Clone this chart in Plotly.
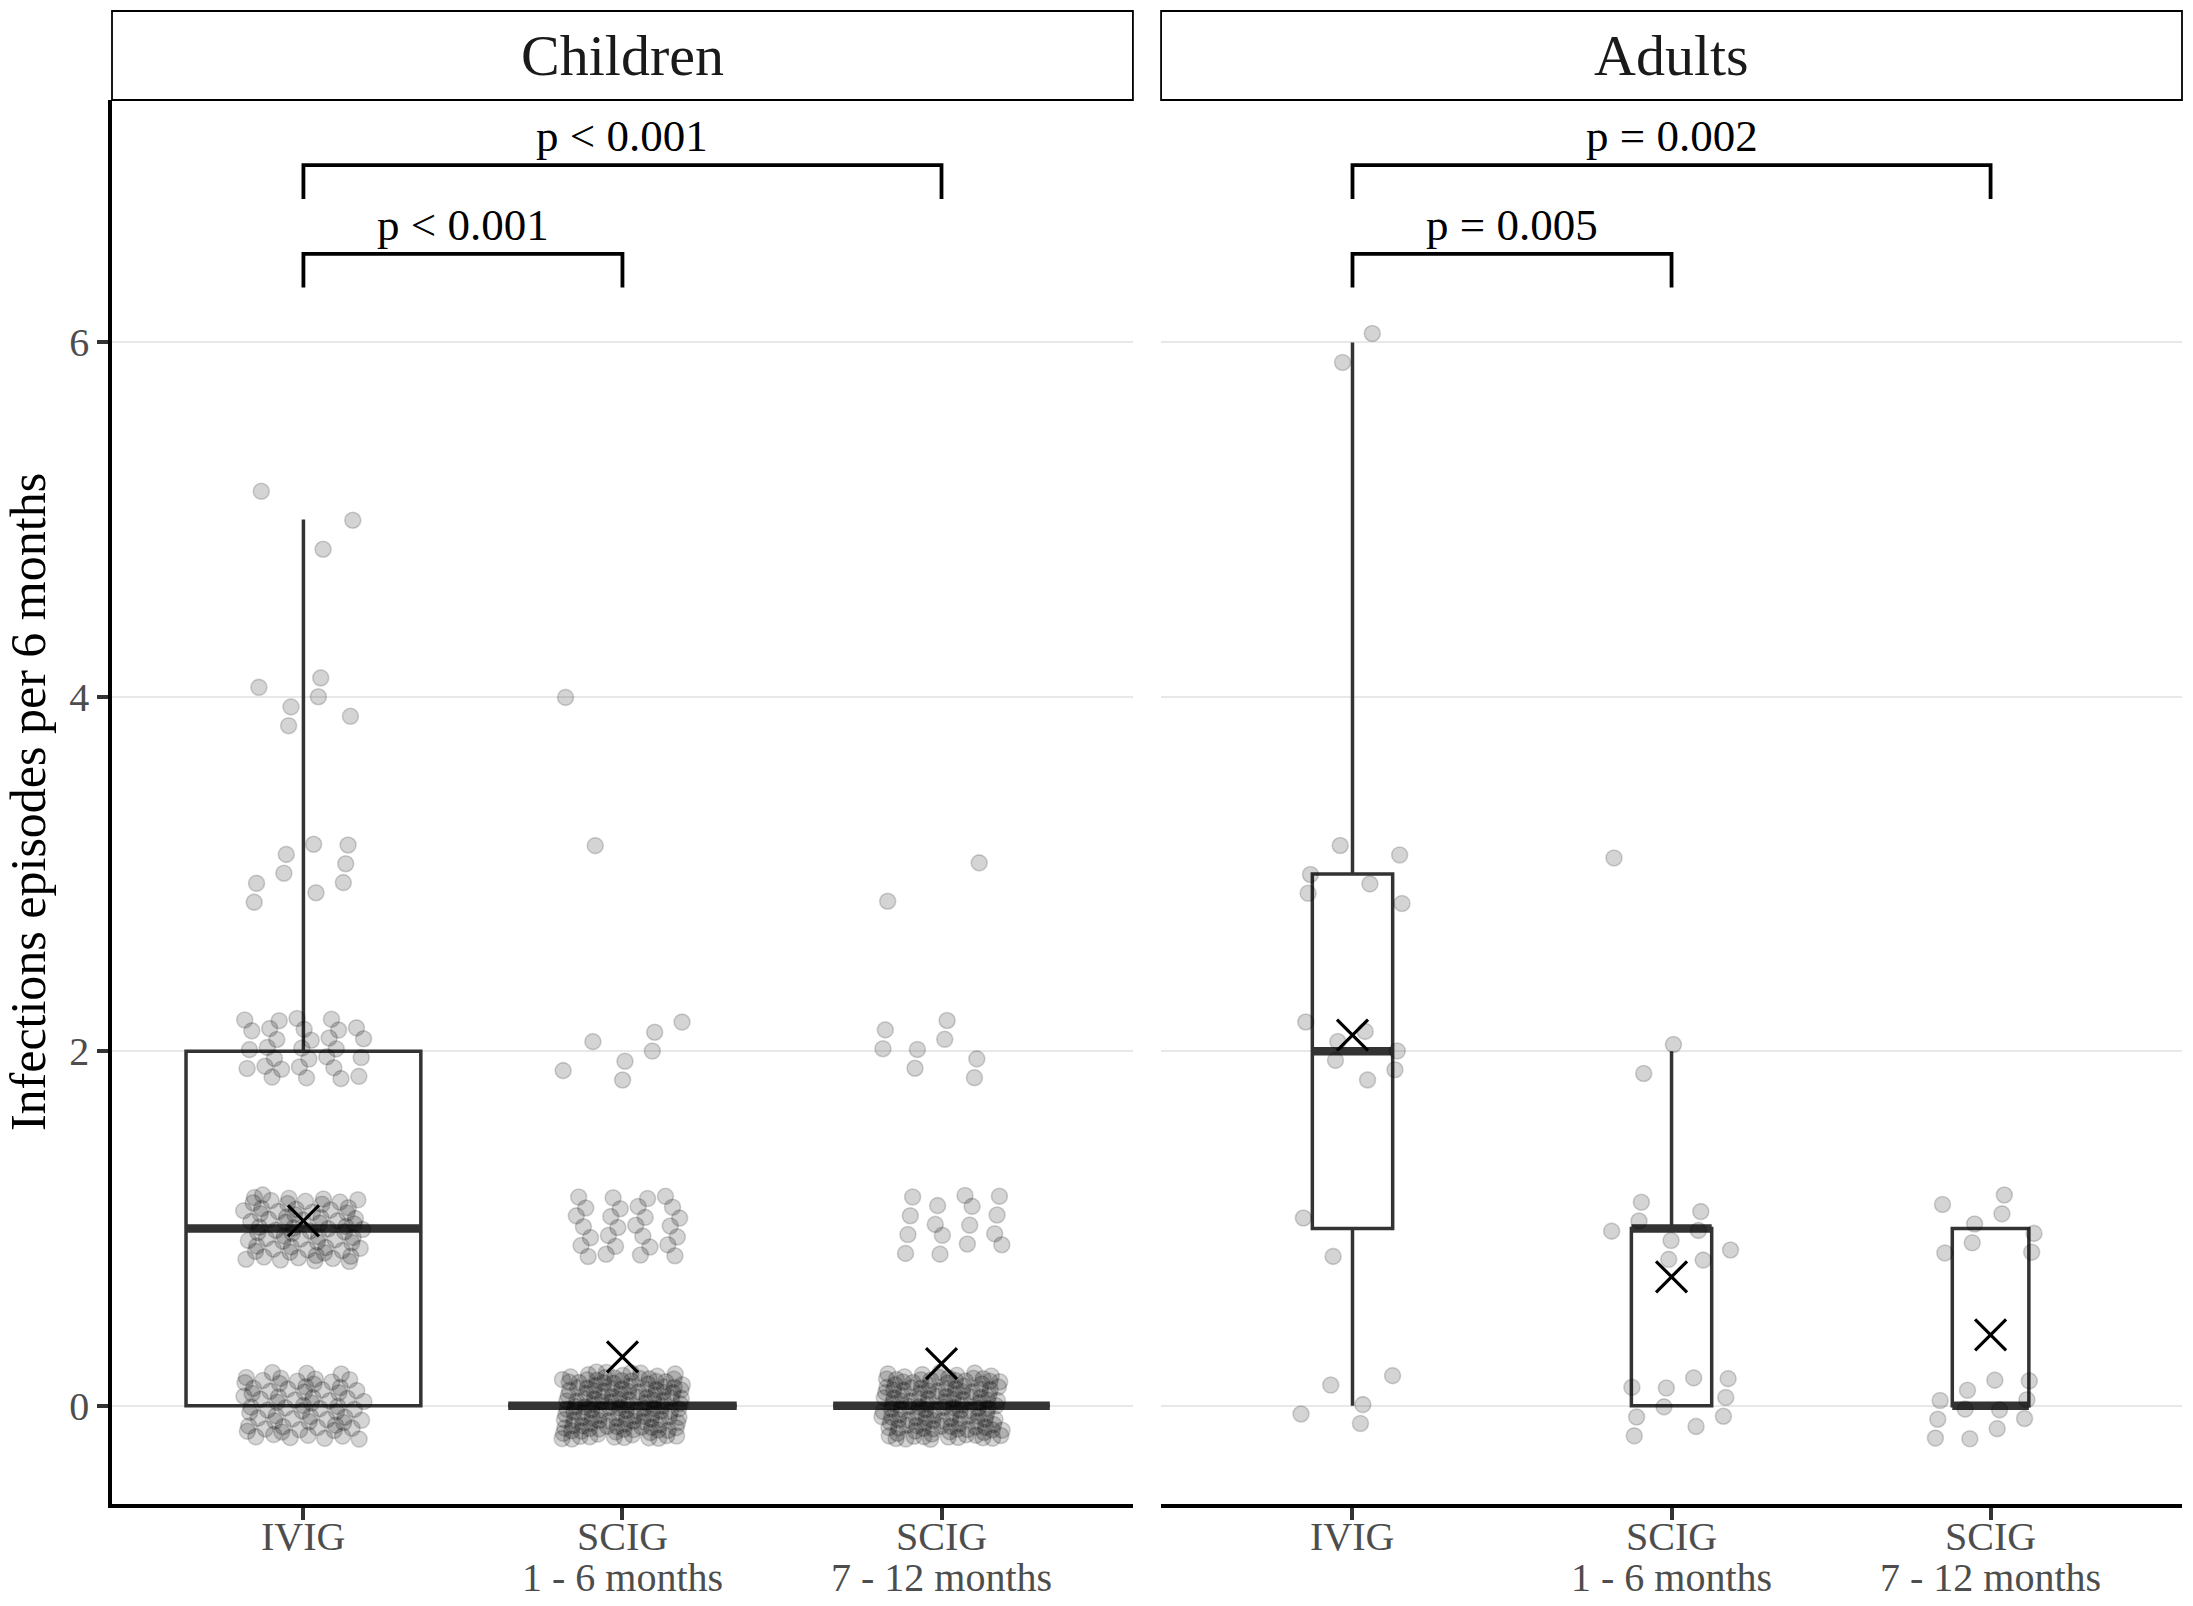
"""Infection episodes per 6 months under IVIG and SCIG, children vs adults.

Boxplots with jittered patient points, a cross for the group mean and
bracketed p-values, in the style of a two-panel ggplot facet.
"""

import numpy as np
import plotly.graph_objects as go

# ---- data ----
treatments = ["IVIG", "SCIG<br>1 - 6 months", "SCIG<br>7 - 12 months"]
panels = ["Children", "Adults"]
episodes = [0, 1, 2, 3, 4, 5, 6]  # possible episode counts per patient

# number of patients at each value of `episodes`
children_ivig = [70, 70, 30, 9, 6, 3, 0]
children_scig_1_6 = [141, 28, 7, 1, 1, 0, 0]
children_scig_7_12 = [134, 16, 8, 2, 0, 0, 0]
adults_ivig = [5, 2, 7, 6, 0, 0, 2]
adults_scig_1_6 = [10, 9, 2, 1, 0, 0, 0]
adults_scig_7_12 = [12, 8, 0, 0, 0, 0, 0]

comparisons = [(1, 2), (1, 3)]
children_p = ["p < 0.001", "p < 0.001"]
adults_p = ["p = 0.005", "p = 0.002"]

# ---- styling ----
FONT = "Liberation Serif"
BOX_LINE = "#333333"
TICK_TEXT = "#4d4d4d"
GRID = "#e8e8e8"
MAX_BOX_WIDTH = 0.736
JITTER = 0.19
BRACKET_Y = [6.5, 7.0]
BRACKET_DROP = 0.19
Y_RANGE = [-0.555, 7.368]
X_RANGE = [0.4, 3.6]
# paper y of each line of the x tick labels (plotly's own spacing is too loose)
TICK_LINE_Y = [-0.0235, -0.0525]


def expand(counts: list[int]) -> np.ndarray:
    """Turn counts per episode value into one value per patient."""
    return np.repeat(np.array(episodes, dtype=float), counts)


def box_stats(values: np.ndarray) -> tuple[float, float, float, float, float]:
    """Quartiles and Tukey whisker ends, as ggplot's geom_boxplot draws them."""
    q1, med, q3 = np.percentile(values, [25, 50, 75])
    iqr = q3 - q1
    lo = values[values >= q1 - 1.5 * iqr].min()
    hi = values[values <= q3 + 1.5 * iqr].max()
    return q1, med, q3, lo, hi


def jitter_offsets(n: int, start: int) -> tuple[np.ndarray, np.ndarray]:
    """Deterministic spread of points (R2 low-discrepancy sequence)."""
    k = np.arange(start, start + n)
    u = (0.5 + k * 0.7548776662466927) % 1.0
    v = (0.5 + k * 0.5698402909980532) % 1.0
    return (u - 0.5) * 2 * JITTER, (v - 0.5) * 2 * JITTER


panel_groups = [
    [children_ivig, children_scig_1_6, children_scig_7_12],
    [adults_ivig, adults_scig_1_6, adults_scig_7_12],
]
panel_p = [children_p, adults_p]
n_max = max(sum(c) for group in panel_groups for c in group)

fig = go.Figure()
point_index = 0
for p, groups in enumerate(panel_groups):
    xa, ya = ("x", "y") if p == 0 else ("x2", "y2")
    for i, counts in enumerate(groups):
        pos = i + 1
        vals = expand(counts)
        q1, med, q3, lo, hi = box_stats(vals)
        w = MAX_BOX_WIDTH * np.sqrt(len(vals) / n_max)

        fig.add_trace(go.Box(
            x=[pos], q1=[q1], median=[med], q3=[q3], lowerfence=[lo], upperfence=[hi],
            width=w, fillcolor="white", line=dict(color=BOX_LINE, width=3.5),
            whiskerwidth=0, boxpoints=False, xaxis=xa, yaxis=ya,
            showlegend=False, hoverinfo="skip",
        ))
        # thicker median bar
        fig.add_trace(go.Scatter(
            x=[pos - w / 2, pos + w / 2], y=[med, med], mode="lines",
            line=dict(color=BOX_LINE, width=8.5), xaxis=xa, yaxis=ya,
            showlegend=False, hoverinfo="skip",
        ))
        dx, dy = jitter_offsets(len(vals), point_index)
        point_index += len(vals)
        fig.add_trace(go.Scatter(
            x=pos + dx, y=vals + dy, mode="markers",
            marker=dict(size=16, color="rgba(0,0,0,0.17)",
                        line=dict(color="rgba(0,0,0,0.17)", width=1.6)),
            xaxis=xa, yaxis=ya, showlegend=False, hoverinfo="skip",
        ))
        fig.add_trace(go.Scatter(
            x=[pos], y=[vals.mean()], mode="markers",
            marker=dict(symbol="x-thin", size=31, line=dict(color="black", width=3.2)),
            xaxis=xa, yaxis=ya, showlegend=False, hoverinfo="skip",
        ))

    for (a, b), h, label in zip(comparisons, BRACKET_Y, panel_p[p]):
        fig.add_trace(go.Scatter(
            x=[a, a, b, b], y=[h - BRACKET_DROP, h, h, h - BRACKET_DROP], mode="lines",
            line=dict(color="black", width=3.8), xaxis=xa, yaxis=ya,
            showlegend=False, hoverinfo="skip",
        ))
        fig.add_annotation(
            x=(a + b) / 2, y=h, xref=xa, yref=ya, text=label, showarrow=False,
            yanchor="bottom", yshift=2, font=dict(family=FONT, size=45, color="black"),
        )

    # category labels under the ticks, one annotation per text line
    for i, name in enumerate(treatments):
        for line, y in zip(name.split("<br>"), TICK_LINE_Y):
            fig.add_annotation(
                x=i + 1, y=y, xref=xa, yref="paper", text=line, showarrow=False,
                xanchor="center", yanchor="middle", borderpad=0,
                font=dict(family=FONT, size=40, color=TICK_TEXT),
            )

# facet strips
domains = [[0.0, 0.4932], [0.5068, 1.0]]
for dom, name in zip(domains, panels):
    fig.add_shape(
        type="rect", xref="paper", yref="paper", x0=dom[0], x1=dom[1], y0=1.0, y1=1.0634,
        line=dict(color="black", width=1.8), fillcolor="white",
    )
    fig.add_annotation(
        x=(dom[0] + dom[1]) / 2, y=1.0317, xref="paper", yref="paper", text=name,
        showarrow=False, xanchor="center", yanchor="middle",
        font=dict(family=FONT, size=58, color="#1a1a1a"),
    )

x_common = dict(
    range=X_RANGE, tickmode="array", tickvals=[1, 2, 3], showticklabels=False,
    ticks="outside", ticklen=12, tickwidth=3.5, tickcolor=BOX_LINE, automargin=False,
    showline=True, linecolor="black", linewidth=3.5, showgrid=False, zeroline=False,
)
y_common = dict(
    range=Y_RANGE, tickmode="array", tickvals=[0, 2, 4, 6], automargin=False,
    showgrid=True, gridcolor=GRID, gridwidth=1.5, zeroline=False,
)

fig.update_layout(
    width=2193,
    height=1606,
    margin=dict(l=112, r=11, t=100, b=102),
    paper_bgcolor="white",
    plot_bgcolor="white",
    font=dict(family=FONT),
    xaxis=dict(domain=domains[0], anchor="y", **x_common),
    xaxis2=dict(domain=domains[1], anchor="y2", **x_common),
    yaxis=dict(
        anchor="x", ticks="outside", ticklen=11, tickwidth=3.5, tickcolor=BOX_LINE,
        tickfont=dict(family=FONT, size=40, color=TICK_TEXT),
        showline=True, linecolor="black", linewidth=3.5,
        title=dict(text="Infections episodes per 6 months", standoff=14,
                   font=dict(family=FONT, size=50, color="black")),
        **y_common,
    ),
    yaxis2=dict(anchor="x2", matches="y", showticklabels=False, ticks="",
                showline=False, **y_common),
)

# drop the browser's default page margin so the figure fills the window
fig.write_html(
    "out.html",
    config={"displayModeBar": False},
    post_script="document.body.style.margin = '0'; document.body.style.overflow = 'hidden';",
)
